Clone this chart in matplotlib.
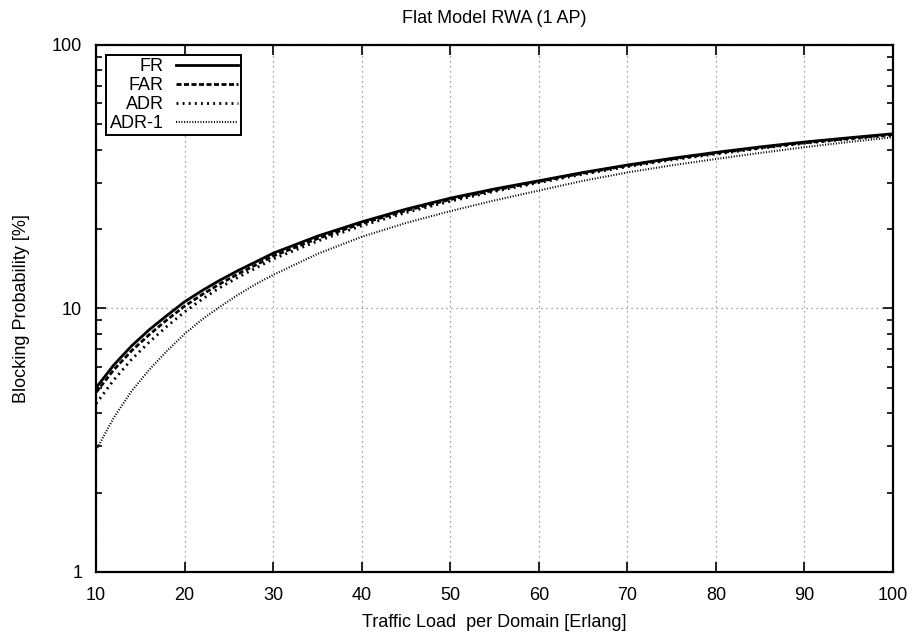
import matplotlib
matplotlib.use("Agg")
import matplotlib.pyplot as plt
from matplotlib.ticker import FixedLocator, NullFormatter

plt.rcParams["font.family"] = ["Liberation Sans", "DejaVu Sans"]

# Traffic load per domain [Erlang]
load = [10, 12, 14, 16, 18, 20, 22, 24, 26, 28, 30, 35, 40, 45, 50, 55, 60, 65, 70,
        75, 80, 85, 90, 95, 100]

# Blocking probability [%]
fr = [5.0, 6.1, 7.2, 8.3, 9.4, 10.6, 11.7, 12.8, 13.9, 15.0, 16.2, 18.8, 21.3, 23.8,
      26.2, 28.4, 30.5, 32.8, 35.0, 37.1, 39.1, 41.0, 42.8, 44.4, 46.0]
far = [4.8, 5.85, 6.9, 7.95, 9.05, 10.2, 11.3, 12.4, 13.5, 14.6, 15.8, 18.4, 21.0, 23.5,
       25.9, 28.1, 30.3, 32.6, 34.8, 36.9, 38.8, 40.7, 42.5, 44.1, 45.7]
adr = [4.35, 5.35, 6.4, 7.45, 8.55, 9.7, 10.85, 12.0, 13.1, 14.2, 15.4, 18.0, 20.6, 23.1,
       25.5, 27.8, 30.0, 32.3, 34.5, 36.6, 38.5, 40.5, 42.3, 43.9, 45.4]
adr1 = [2.9, 3.85, 4.85, 5.85, 6.9, 8.0, 9.1, 10.15, 11.25, 12.35, 13.4, 16.1, 18.7, 21.1,
        23.4, 25.7, 28.0, 30.5, 32.8, 34.9, 36.9, 38.9, 40.9, 42.8, 44.6]

x_ticks = list(range(10, 101, 10))
y_ticks = [1, 10, 100]

fig = plt.figure(figsize=(9.15, 6.32), dpi=100)
ax = fig.add_axes([0.105, 0.095, 0.871, 0.834])

ax.plot(load, fr, color="black", lw=2.0, ls="-", label="FR")
ax.plot(load, far, color="black", lw=2.0, ls=(0, (1.8, 0.9)), label="FAR")
ax.plot(load, adr, color="black", lw=2.0, ls=(0, (0.7, 1.5)), label="ADR")
ax.plot(load, adr1, color="black", lw=1.5, ls=(0, (0.5, 0.8)), label="ADR-1")

ax.set_yscale("log")
ax.set_xlim(10, 100)
ax.set_ylim(1, 100)
ax.set_xticks(x_ticks)
ax.set_xticklabels([str(v) for v in x_ticks])
ax.set_yticks(y_ticks)
ax.set_yticklabels([str(v) for v in y_ticks])
ax.yaxis.set_minor_locator(FixedLocator([m * d for d in (1, 10) for m in range(2, 10)]))
ax.yaxis.set_minor_formatter(NullFormatter())

ax.tick_params(which="both", direction="in", top=True, right=True, labelsize=13)
ax.tick_params(which="major", length=7, width=1.2)
ax.tick_params(which="minor", length=4, width=1.2)
ax.tick_params(axis="x", pad=11)
ax.tick_params(axis="y", pad=10)
for s in ax.spines.values():
    s.set_linewidth(1.6)

ax.grid(True, which="major", color="#888888", ls=(0, (1, 3)), lw=0.9)

ax.set_title("Flat Model RWA (1 AP)", fontsize=13, pad=16)
ax.set_xlabel("Traffic Load  per Domain [Erlang]", fontsize=13, labelpad=7)
ax.set_ylabel("Blocking Probability [%]", fontsize=13, labelpad=16)

leg = ax.legend(loc="upper left", markerfirst=False, fontsize=13, frameon=True,
                fancybox=False, edgecolor="black", framealpha=1.0, handlelength=3.4,
                handletextpad=0.7, labelspacing=0.1, borderpad=0.2,
                borderaxespad=0.55)
leg.get_frame().set_linewidth(1.4)

fig.savefig("out.png", dpi=100)
